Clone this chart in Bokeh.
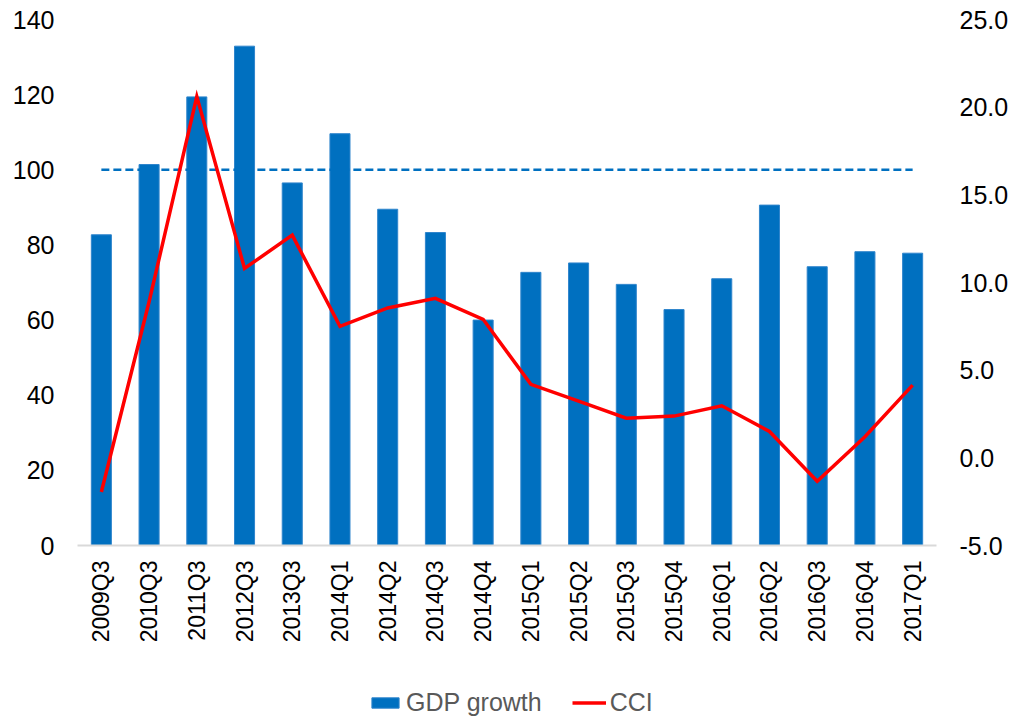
from bokeh.plotting import figure
from bokeh.models import Range1d, LinearAxis, Legend, LegendItem, FactorRange, ColumnDataSource
from bokeh.models import CustomJSTickFormatter
from bokeh.layouts import column
from bokeh.embed import file_html
from bokeh.resources import INLINE

quarters = ["2009Q3", "2010Q3", "2011Q3", "2012Q3", "2013Q3", "2014Q1", "2014Q2", "2014Q3",
            "2014Q4", "2015Q1", "2015Q2", "2015Q3", "2015Q4", "2016Q1", "2016Q2", "2016Q3",
            "2016Q4", "2017Q1"]
gdp_growth = [82.7, 101.4, 119.4, 132.9, 96.5, 109.6, 89.5, 83.3, 60.0, 72.7, 75.2, 69.5,
              62.8, 71.0, 90.6, 74.2, 78.2, 77.8]
cci = [-1.95, 8.9, 20.6, 10.8, 12.7, 7.5, 8.55, 9.1, 7.9, 4.19, 3.23, 2.26, 2.38, 2.97,
       1.5, -1.34, 1.2, 4.15]
reference_level = [100] * len(quarters)

left_ticks = [0, 20, 40, 60, 80, 100, 120, 140]
right_ticks = [-5, 0, 5, 10, 15, 20, 25]

FONT = "Liberation Sans"
BLUE = "#0070C0"
RED = "#FF0000"

W = 1016
frame_left, frame_right, frame_top, frame_bottom = 77, 936, 19, 545
bottom_border = 110
main_h = frame_top + (frame_bottom - frame_top) + bottom_border
legend_h = 721 - main_h

p = figure(width=W, height=main_h,
           x_range=FactorRange(*quarters, range_padding=0),
           y_range=Range1d(0, 140), output_backend="svg", toolbar_location=None,
           min_border_left=frame_left, min_border_right=W - frame_right,
           min_border_top=frame_top, min_border_bottom=bottom_border)
p.outline_line_color = None
p.background_fill_color = "white"
p.border_fill_color = "white"
p.xgrid.grid_line_color = None
p.ygrid.grid_line_color = None
p.extra_y_ranges = {"cci": Range1d(-5, 25)}

src = ColumnDataSource(dict(q=quarters, gdp=gdp_growth, cci=cci, ref=reference_level))

bar_style = dict(width=0.42, fill_color=BLUE, line_color="#2F85CC", line_width=1)
line_style = dict(line_color=RED, line_width=3.5, line_join="miter")

bars = p.vbar(x="q", top="gdp", source=src, **bar_style)
ref = p.line(x="q", y="ref", source=src, line_color=BLUE, line_width=2.6, line_dash="8 4")
ln = p.line(x="q", y="cci", source=src, y_range_name="cci", **line_style)

# left axis
ya = p.yaxis[0]
ya.ticker = left_ticks
ya.axis_line_color = None
ya.major_tick_line_color = None
ya.minor_tick_line_color = None
ya.major_tick_out = 0
ya.major_label_standoff = 23
ya.major_label_text_font = FONT
ya.major_label_text_font_size = "25px"
ya.major_label_text_color = "#000000"

# right axis
ra = LinearAxis(y_range_name="cci", ticker=right_ticks)
ra.formatter = CustomJSTickFormatter(code="return tick.toFixed(1);")
ra.axis_line_color = None
ra.major_tick_line_color = None
ra.minor_tick_line_color = None
ra.major_tick_out = 0
ra.major_label_standoff = 23
ra.major_label_text_font = FONT
ra.major_label_text_font_size = "25px"
ra.major_label_text_color = "#000000"
p.add_layout(ra, "right")

# x axis
xa = p.xaxis[0]
xa.axis_line_color = "#D9D9D9"
xa.axis_line_width = 2
xa.major_tick_line_color = None
xa.minor_tick_line_color = None
xa.major_tick_out = 0
xa.major_label_orientation = 1.5707963
xa.major_label_standoff = 15
xa.major_label_text_font = FONT
xa.major_label_text_font_size = "23px"
xa.major_label_text_color = "#000000"

# legend strip below the chart (series drawn out of view, only their legend swatches show)
lf = figure(width=W, height=legend_h, x_range=FactorRange(*quarters),
            y_range=Range1d(1000, 1001), output_backend="svg", toolbar_location=None,
            x_axis_location=None, y_axis_location=None,
            min_border_left=0, min_border_right=0, min_border_top=0, min_border_bottom=0)
lf.outline_line_color = None
lf.xgrid.grid_line_color = None
lf.ygrid.grid_line_color = None
lsrc = ColumnDataSource(dict(q=quarters, gdp=gdp_growth, cci=cci))
lbars = lf.vbar(x="q", top="gdp", source=lsrc, **bar_style)
lline = lf.line(x="q", y="cci", source=lsrc, **line_style)

legend = Legend(items=[LegendItem(label="GDP growth", renderers=[lbars]),
                       LegendItem(label="CCI", renderers=[lline])],
                orientation="horizontal", location=(291, 4),
                label_text_font=FONT, label_text_font_size="25px",
                label_text_color="#595959", glyph_width=34, glyph_height=13,
                label_standoff=4, spacing=30, padding=0, margin=0,
                border_line_color=None, background_fill_alpha=0)
lf.add_layout(legend, "center")

layout = column(p, lf, spacing=0)
open("out.html", "w").write(file_html(layout, INLINE))
